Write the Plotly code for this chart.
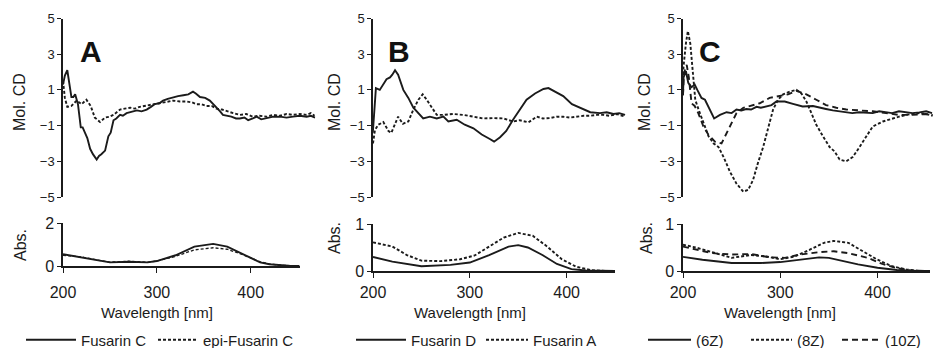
import plotly.graph_objects as go

# ---------------- Panel A: CD ----------------
a_cd_fc_wl = [200, 202, 204.6, 207, 209, 211, 213, 216, 219, 221, 223.5, 226, 229, 232, 236, 238.5, 241, 245, 248.5, 251, 254, 257, 261, 264, 268, 273, 279, 284, 289.5, 294, 298, 303, 307, 312, 318, 323, 328.7, 334, 339, 342, 346.5, 352, 357, 361, 364, 368, 371, 376, 380, 385, 389, 394, 398, 403, 407, 412, 418, 425, 432, 439, 446, 453, 460.6, 465, 469.5]
a_cd_fc_v = [1.3, 1.8, 2.1, 1.4, 0.6, 0.6, 0.75, 0.2, -1.1, -1.1, -1.4, -1.7, -2.3, -2.6, -2.9, -2.7, -2.6, -2.4, -1.6, -1.4, -0.7, -0.6, -0.4, -0.45, -0.3, -0.25, -0.15, -0.2, -0.1, 0.05, 0.2, 0.25, 0.4, 0.5, 0.6, 0.65, 0.7, 0.75, 0.9, 0.8, 0.6, 0.55, 0.4, 0.2, 0.0, -0.2, -0.4, -0.45, -0.5, -0.6, -0.6, -0.55, -0.7, -0.6, -0.5, -0.65, -0.6, -0.5, -0.5, -0.55, -0.5, -0.45, -0.5, -0.45, -0.55]
a_cd_epi_wl = [200, 202, 204.6, 209, 214.6, 220, 225, 229.6, 234, 239.6, 245, 250, 254, 261, 266, 272, 277, 282, 287, 293, 298, 304, 311, 318, 325, 332, 338, 343, 348, 353.5, 359, 364, 370, 375, 382, 389, 396, 403, 410, 418, 425, 432, 439, 446, 453, 460, 465, 469]
a_cd_epi_v = [1.5, 0.55, 0.05, 0.1, 0.4, 0.2, 0.45, 0.1, -0.55, -0.8, -0.55, -0.5, -0.4, -0.1, -0.05, 0.0, -0.05, 0.05, 0.1, 0.15, 0.2, 0.25, 0.3, 0.4, 0.35, 0.35, 0.3, 0.2, 0.2, 0.1, 0.1, -0.05, -0.1, -0.2, -0.3, -0.4, -0.35, -0.5, -0.45, -0.5, -0.4, -0.45, -0.35, -0.4, -0.35, -0.4, -0.3, -0.45]

# ---------------- Panel A: Abs ----------------
a_abs_wl = [200, 220, 240, 250, 270, 290, 300, 320, 340, 360, 375, 390, 410, 420, 430, 440, 452]
a_abs_fc = [0.55, 0.4, 0.23, 0.17, 0.2, 0.17, 0.23, 0.5, 0.9, 1.03, 0.9, 0.6, 0.17, 0.08, 0.03, 0.01, 0.0]
a_abs_epi = [0.5, 0.42, 0.25, 0.18, 0.22, 0.18, 0.23, 0.45, 0.75, 0.85, 0.78, 0.55, 0.2, 0.1, 0.04, 0.01, 0.0]

# ---------------- Panel B: CD ----------------
b_cd_fd_wl = [199.8, 201, 203, 207, 210.7, 214, 217.6, 220, 222.8, 226, 231.4, 236.6, 241.8, 247, 252, 259, 266, 272.9, 278, 286.7, 295, 304, 312.6, 321, 325.4, 331.6, 338, 345, 352, 359, 367.8, 376.5, 381.7, 388.6, 397, 406, 414.6, 425, 435, 442, 449, 455, 461]
b_cd_fd_v = [-1.4, -0.3, 1.1, 1.0, 1.3, 1.6, 1.7, 1.85, 2.1, 1.85, 1.0, 0.55, 0.0, -0.3, -0.6, -0.5, -0.6, -0.5, -0.77, -0.67, -0.95, -1.15, -1.5, -1.75, -1.9, -1.65, -1.3, -0.67, -0.1, 0.45, 0.8, 1.05, 1.1, 0.9, 0.65, 0.2, 0.0, -0.25, -0.3, -0.25, -0.35, -0.3, -0.4]
b_cd_fa_wl = [200, 202, 205.5, 210.7, 216, 219, 226, 231, 236.6, 241.8, 247, 251.5, 255.6, 261, 266, 273, 283, 293.6, 304, 314, 324.7, 335, 345, 352, 361, 369.6, 376, 383.4, 390, 397, 404, 411, 418, 425, 432, 438.7, 445, 452.6, 461]
b_cd_fa_v = [-2.0, -1.25, -0.95, -0.8, -1.3, -1.4, -0.5, -0.9, -0.77, -0.1, 0.45, 0.75, 0.45, 0.0, -0.4, -0.4, -0.35, -0.4, -0.5, -0.6, -0.58, -0.6, -0.77, -0.7, -0.82, -0.5, -0.6, -0.58, -0.5, -0.5, -0.55, -0.5, -0.45, -0.45, -0.4, -0.4, -0.45, -0.35, -0.5]

# ---------------- Panel B: Abs ----------------
b_abs_fd_wl = [200, 220, 250, 280, 300, 320, 340, 350, 360, 375, 390, 405, 420, 435, 450]
b_abs_fd = [0.3, 0.2, 0.1, 0.13, 0.18, 0.34, 0.52, 0.55, 0.5, 0.34, 0.15, 0.04, 0.01, 0.0, 0.0]
b_abs_fa_wl = [200, 220, 235, 250, 270, 290, 305, 320, 335, 350, 365, 380, 395, 410, 425, 440, 450]
b_abs_fa = [0.61, 0.52, 0.34, 0.22, 0.21, 0.25, 0.33, 0.52, 0.71, 0.81, 0.75, 0.52, 0.25, 0.09, 0.02, 0.0, 0.0]

# ---------------- Panel C: CD ----------------
c_cd_6z_wl = [200, 200.5, 203, 205.4, 208.8, 212, 214.7, 219, 222.6, 227.7, 232, 238, 244.8, 250, 255, 260, 265, 270, 275.6, 280, 285.8, 291, 296, 304.6, 313, 318, 323, 333.6, 340, 347, 354, 360.7, 367, 374, 381, 388, 395, 401.6, 408, 415, 422, 429, 436, 443, 450, 456]
c_cd_6z_v = [0.7, 1.7, 2.05, 1.4, 1.15, 1.3, 1.0, 0.55, 0.45, -0.1, -0.6, -0.4, -0.25, -0.3, -0.1, -0.15, -0.07, -0.1, 0.05, 0.0, 0.1, 0.15, 0.35, 0.35, 0.22, 0.15, 0.07, 0.1, 0.0, -0.07, -0.15, -0.2, -0.25, -0.3, -0.25, -0.26, -0.3, -0.2, -0.25, -0.3, -0.2, -0.25, -0.3, -0.26, -0.2, -0.3]
c_cd_8z_wl = [200, 200.5, 203, 205, 207.5, 209.9, 212.6, 216, 221, 226.3, 231.5, 236.5, 241.6, 248.4, 255, 262, 267, 272, 277, 282.4, 287.5, 292.6, 297.7, 302.9, 309.7, 316.6, 321.7, 326.8, 332, 337, 343.9, 350.7, 355.8, 361, 367.8, 374.7, 381.5, 388.4, 395, 405.5, 415.7, 422, 429, 436, 443, 450, 456.6]
c_cd_8z_v = [1.3, 2.3, 3.6, 4.3, 3.6, 2.1, 0.45, -0.1, -0.85, -1.6, -2.0, -2.2, -2.75, -3.6, -4.25, -4.7, -4.6, -4.05, -3.1, -2.2, -1.15, -0.1, 0.45, 0.75, 0.9, 1.0, 0.8, 0.35, -0.3, -0.95, -1.6, -2.2, -2.45, -2.9, -3.0, -2.75, -2.2, -1.6, -1.05, -0.77, -0.58, -0.5, -0.4, -0.35, -0.3, -0.35, -0.45]
c_cd_10z_wl = [200, 201, 203.8, 206, 208.8, 212, 215.7, 221, 226, 232.8, 239.6, 244.8, 249.9, 255, 262, 268.6, 278.9, 289, 299, 308, 316.6, 326.8, 337, 347, 357.6, 367.8, 381.5, 395, 408.7, 422, 436, 449.6, 456.6]
c_cd_10z_v = [0.7, 1.95, 2.4, 1.7, 0.25, 0.1, -0.3, -1.05, -1.5, -1.9, -2.0, -1.4, -0.85, -0.3, 0.0, 0.1, 0.25, 0.55, 0.65, 0.75, 0.95, 0.75, 0.45, 0.15, 0.0, -0.1, -0.15, -0.2, -0.3, -0.4, -0.4, -0.35, -0.4]

# ---------------- Panel C: Abs ----------------
c_abs_6z_wl = [200, 220, 250, 280, 300, 320, 340, 350, 365, 380, 400, 420, 435, 454]
c_abs_6z = [0.3, 0.24, 0.17, 0.17, 0.19, 0.24, 0.29, 0.28, 0.21, 0.14, 0.07, 0.02, 0.0, 0.0]
c_abs_8z_wl = [200, 215, 230, 250, 270, 285, 300, 315, 330, 345, 355, 370, 385, 400, 415, 430, 445, 454]
c_abs_8z = [0.56, 0.49, 0.4, 0.28, 0.34, 0.31, 0.25, 0.31, 0.45, 0.6, 0.64, 0.6, 0.42, 0.24, 0.1, 0.03, 0.0, 0.0]
c_abs_10z_wl = [200, 215, 230, 250, 270, 290, 305, 320, 340, 355, 370, 390, 405, 420, 435, 454]
c_abs_10z = [0.52, 0.45, 0.38, 0.35, 0.36, 0.29, 0.28, 0.35, 0.4, 0.42, 0.38, 0.28, 0.15, 0.06, 0.01, 0.0]

# ---------------- labels ----------------
cd_ticks = [-5, -3, -1, 1, 3, 5]
abs_ticks_a = [0, 2]
abs_ticks_bc = [0, 1]
wl_ticks = [200, 300, 400]
panel_letters = ["A", "B", "C"]

# The page body adds an 8px margin; work in window pixels and convert.
OFF = 8
W, H = 947 - OFF, 348 - OFF
INK = "#1b1b1b"
FONT = "Liberation Sans, Arial, sans-serif"
SOLID = "solid"
FINE = "3px,2px"
LONG = "6px,4px"

def px(x):
    return (x - OFF) / W

def py(y):
    return 1 - (y - OFF) / H

fig = go.Figure()

def add(xs, ys, xa, ya, name, dash, legend, show, width=1.9):
    fig.add_trace(go.Scatter(
        x=xs, y=ys, xaxis=xa, yaxis=ya, mode="lines", name=name,
        line=dict(color=INK, width=width, dash=dash),
        showlegend=show, legend=legend, hoverinfo="skip"))

# Panel A
add(a_cd_fc_wl, a_cd_fc_v, "x", "y", "Fusarin C", SOLID, "legend", True)
add(a_cd_epi_wl, a_cd_epi_v, "x", "y", "epi-Fusarin C", FINE, "legend2", True)
add(a_abs_wl, a_abs_fc, "x2", "y2", "Fusarin C", SOLID, "legend", False)
add(a_abs_wl, a_abs_epi, "x2", "y2", "epi-Fusarin C", FINE, "legend2", False, 1.3)
# Panel B
add(b_cd_fd_wl, b_cd_fd_v, "x3", "y3", "Fusarin D", SOLID, "legend3", True)
add(b_cd_fa_wl, b_cd_fa_v, "x3", "y3", "Fusarin A", FINE, "legend4", True)
add(b_abs_fd_wl, b_abs_fd, "x4", "y4", "Fusarin D", SOLID, "legend3", False)
add(b_abs_fa_wl, b_abs_fa, "x4", "y4", "Fusarin A", FINE, "legend4", False)
# Panel C
add(c_cd_6z_wl, c_cd_6z_v, "x5", "y5", "(6Z)", SOLID, "legend5", True)
add(c_cd_8z_wl, c_cd_8z_v, "x5", "y5", "(8Z)", FINE, "legend6", True)
add(c_cd_10z_wl, c_cd_10z_v, "x5", "y5", "(10Z)", LONG, "legend7", True)
add(c_abs_6z_wl, c_abs_6z, "x6", "y6", "(6Z)", SOLID, "legend5", False)
add(c_abs_8z_wl, c_abs_8z, "x6", "y6", "(8Z)", FINE, "legend6", False)
add(c_abs_10z_wl, c_abs_10z, "x6", "y6", "(10Z)", LONG, "legend7", False)

axis_common = dict(showgrid=False, zeroline=False, linecolor=INK, linewidth=1.5,
                   tickcolor=INK, tickwidth=1.3, ticks="outside", showline=True,
                   fixedrange=True, automargin=False)

# geometry in window pixels
panels = [
    dict(x0=63, cd_x1=315.5, cd_max=470, abs_x1=299.5, abs_max=452, abs_y0=266, abs_y1=223,
         abs_top=2, abs_ticks=abs_ticks_a, standoff=6),
    dict(x0=373, cd_x1=626, cd_max=462, abs_x1=615, abs_max=450, abs_y0=271, abs_y1=224,
         abs_top=1, abs_ticks=abs_ticks_bc, standoff=1),
    dict(x0=683, cd_x1=933, cd_max=457, abs_x1=930, abs_max=454, abs_y0=271, abs_y1=224,
         abs_top=1, abs_ticks=abs_ticks_bc, standoff=1),
]
CD_TOP, CD_BOT = 18.5, 197

layout = {}
for i, p in enumerate(panels):
    cd_idx = 2 * i + 1
    ab_idx = 2 * i + 2
    xk = "xaxis" if cd_idx == 1 else f"xaxis{cd_idx}"
    yk = "yaxis" if cd_idx == 1 else f"yaxis{cd_idx}"
    xa_name = "x" if cd_idx == 1 else f"x{cd_idx}"
    ya_name = "y" if cd_idx == 1 else f"y{cd_idx}"
    layout[xk] = dict(domain=[px(p["x0"]), px(p["cd_x1"])], range=[200, p["cd_max"]],
                      visible=False, anchor=ya_name, fixedrange=True, automargin=False)
    layout[yk] = dict(axis_common, domain=[py(CD_BOT), py(CD_TOP)], range=[-5, 5],
                      tickvals=cd_ticks, ticklen=4, anchor=xa_name,
                      tickfont=dict(size=13, color=INK, family=FONT))
    layout[f"xaxis{ab_idx}"] = dict(axis_common, domain=[px(p["x0"]), px(p["abs_x1"])],
                                    range=[200, p["abs_max"]], tickvals=wl_ticks, ticklen=5,
                                    anchor=f"y{ab_idx}", ticklabelstandoff=p["standoff"],
                                    tickfont=dict(size=16, color=INK, family=FONT))
    layout[f"yaxis{ab_idx}"] = dict(axis_common, domain=[py(p["abs_y0"]), py(p["abs_y1"])],
                                    range=[0, p["abs_top"]], tickvals=p["abs_ticks"], ticklen=4,
                                    anchor=f"x{ab_idx}",
                                    tickfont=dict(size=16, color=INK, family=FONT))

def note(text, x, y, size, angle=0, color=INK):
    return dict(text=text, x=px(x), y=py(y), xref="paper", yref="paper",
                xanchor="center", yanchor="middle", showarrow=False, textangle=angle,
                font=dict(size=size, color=color, family=FONT))

ann = []
letter_pos = [(91, 52), (399, 52), (710, 52)]
for L, (lx, ly) in zip(panel_letters, letter_pos):
    ann.append(note(f"<b>{L}</b>", lx, ly, 30, color="#111"))
mol_pos = [(19, 102), (334, 102), (644, 102)]
abs_pos = [(20, 245), (334, 238), (646, 238)]
wl_pos = [(157, 312), (470, 312), (780, 312)]
for (mx, my), (ax_, ay_), (wx, wy) in zip(mol_pos, abs_pos, wl_pos):
    ann.append(note("Mol. CD", mx, my, 16, -90))
    ann.append(note("Abs.", ax_, ay_, 16, -90))
    ann.append(note("Wavelength [nm]", wx, wy, 15))

# one legend per entry, so each key sits where the reference puts it
leg_font = dict(size=15, color=INK, family=FONT)
legend_text_x = [80, 202, 410, 532, 695, 796, 884]   # window x where each legend label starts
legend_key_w = [50, 40, 50, 42, 43, 41, 38]           # length of each legend key line
legends = {}
for k, (tx, kw) in enumerate(zip(legend_text_x, legend_key_w)):
    key = "legend" if k == 0 else f"legend{k + 1}"
    legends[key] = dict(orientation="h", x=px(tx - kw - 9), xanchor="left",
                        y=py(340), yanchor="middle", font=leg_font, itemwidth=kw,
                        bgcolor="rgba(0,0,0,0)", itemclick=False, itemdoubleclick=False)

fig.update_layout(
    width=W, height=H, margin=dict(l=0, r=0, t=0, b=0, pad=0, autoexpand=False),
    paper_bgcolor="white", plot_bgcolor="white",
    font=dict(family=FONT, color=INK),
    annotations=ann,
    **legends,
    **layout,
)

fig.write_html("out.html")
